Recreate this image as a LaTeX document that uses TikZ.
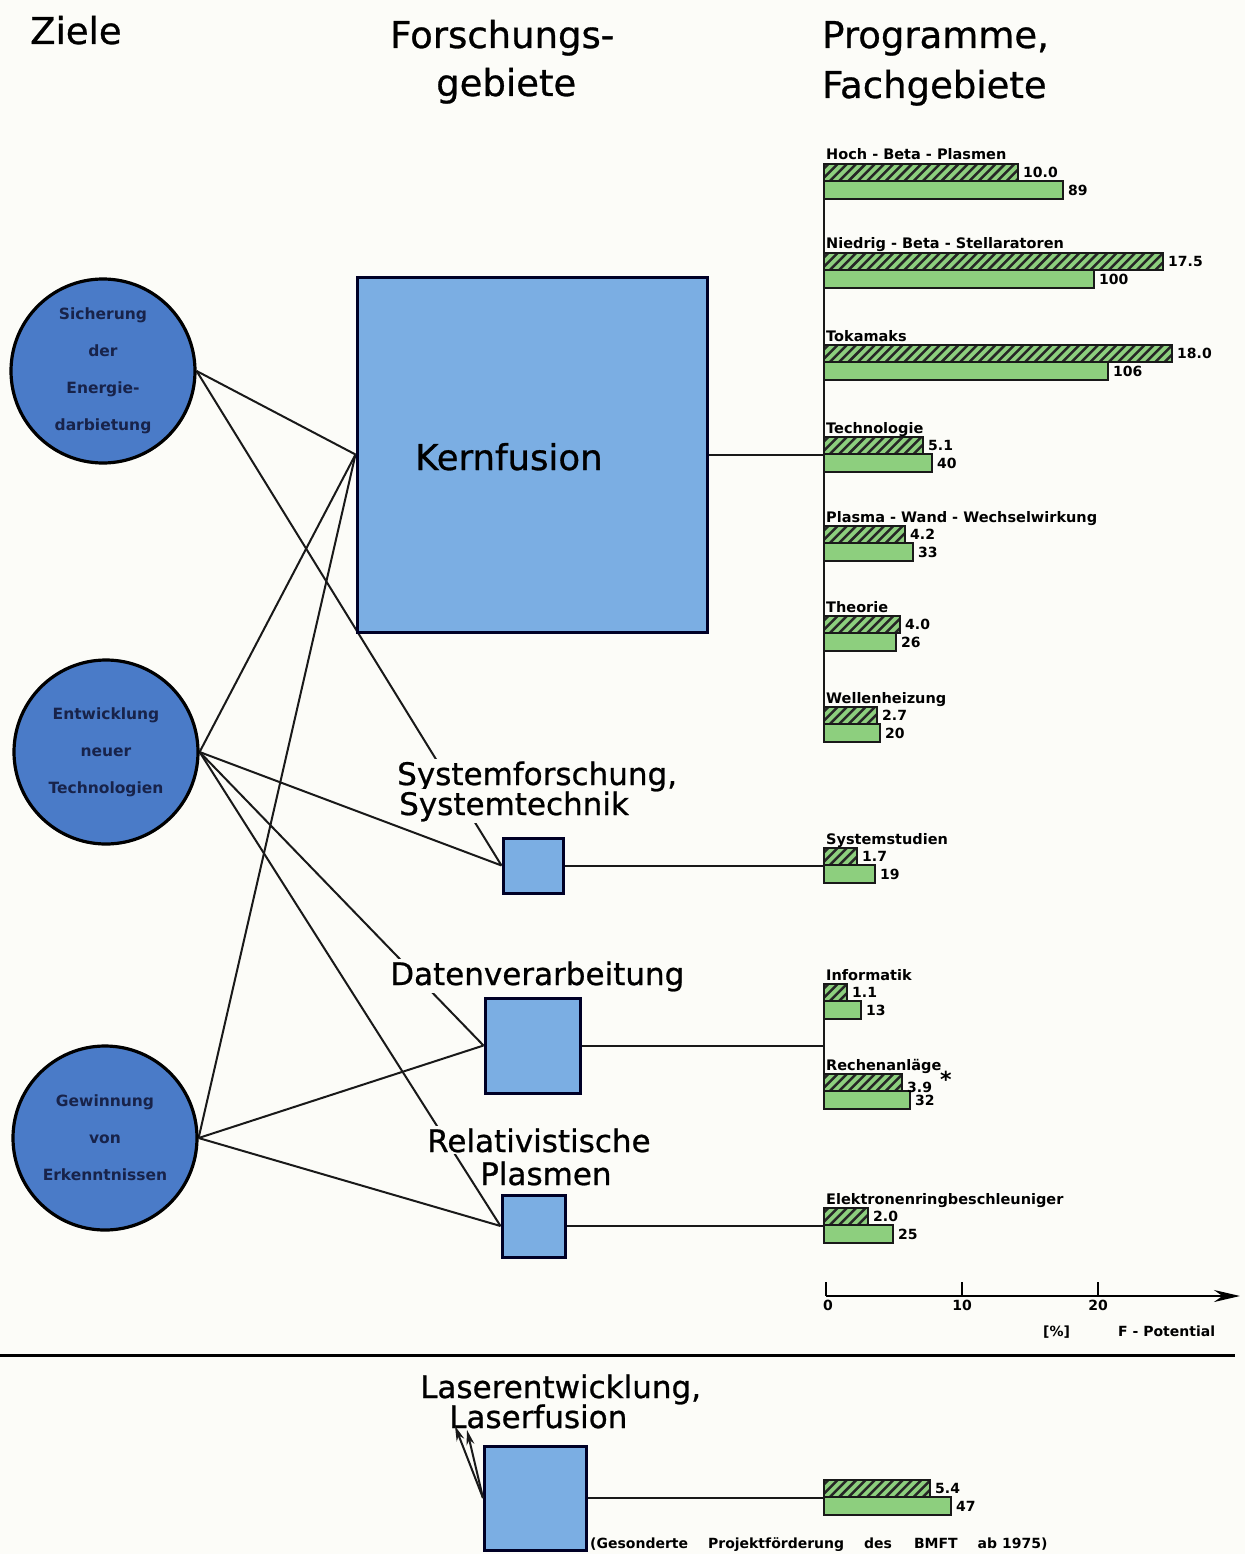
\documentclass[tikz,border=0pt]{standalone}
\usepackage{fontspec}
\setmainfont{DejaVu Sans}
\newfontfamily\heavyfont[FakeBold=0.8]{DejaVu Sans}
\usetikzlibrary{arrows.meta}
\pgfdeclarelayer{paperlayer}
\pgfdeclarelayer{wires}
\pgfsetlayers{paperlayer,wires,main}

\definecolor{goalblue}{HTML}{4A7BC8}
\definecolor{areablue}{HTML}{7BAEE3}
\definecolor{bargreen}{HTML}{8DCF7E}
\definecolor{paper}{HTML}{FCFCF8}
\definecolor{goalink}{HTML}{18234A}

\newcommand\fs[1]{\fontsize{#1}{#1}\selectfont}

% one pair of bars: #1 name, #2 top y, #3 caption, #4 end of hatched bar,
% #5 its value, #6 end of plain bar, #7 its value
\newcommand\fbars[7]{%
  \fill[bargreen] (824,#2+17) rectangle (#6,#2+35);
  \fill[bargreen] (824,#2) rectangle (#4,#2+17);
  \begin{scope}
    \clip (824,#2) rectangle (#4,#2+17);
    \foreach \hx in {800,809.3,...,1190}
      \draw[hatchline] (\hx,#2+19) -- (\hx+21,#2-2);
  \end{scope}
  \draw[barline] (824,#2+17) rectangle (#6,#2+35);
  \draw[barline] (824,#2) rectangle (#4,#2+17);
  \node[barlbl] (#1) at (826,#2-4) {#3};
  \node[val] (#1-h) at (#4+5,#2+8) {#5};
  \node[val] (#1-s) at (#6+5,#2+26) {#7};
}

\begin{document}
\begin{tikzpicture}[x=1pt,y=-1pt,
  goal/.style={circle,draw=black,line width=3.2pt,fill=goalblue,minimum size=184pt,
    inner sep=0pt,align=center,text=goalink,font=\bfseries\fontsize{15.5}{37}\selectfont},
  area/.style={draw=black!85!blue,line width=3pt,fill=areablue,inner sep=0pt},
  link/.style={line width=2pt,draw=black!90},
  head/.style={font=\heavyfont\fs{37},anchor=base west,inner sep=0pt},
  fieldlbl/.style={font=\heavyfont\fs{31},anchor=base west,inner sep=2pt,fill=paper},
  barlbl/.style={font=\bfseries\fs{14.5},anchor=base west,inner sep=0pt},
  val/.style={font=\bfseries\fs{14},anchor=west,inner sep=0pt},
  barline/.style={line width=2.4pt,draw=black!90},
  hatchline/.style={line width=2.5pt,draw=black!85},
  tickmark/.style={line width=2.5pt},
  note/.style={font=\bfseries\fs{14},anchor=base west,inner sep=0pt}
]
\begin{pgfonlayer}{paperlayer}
  \fill[paper] (0,0) rectangle (1245,1554);
\end{pgfonlayer}
\useasboundingbox (0,0) rectangle (1245,1554);

% column headings
\node[head] (hziele) at (30,44) {Ziele};
\node[head] (hforsch1) at (390,48) {Forschungs-};
\node[head] (hforsch2) at (436,96) {gebiete};
\node[head] (hprog1) at (822,48) {Programme,};
\node[head] (hprog2) at (822,98) {Fachgebiete};

% goals
\node[goal] (sich) at (103,371) {Sicherung\\der\\Energie-\\darbietung};
\node[goal] (ent) at (106,752) {Entwicklung\\neuer\\Technologien};
\node[goal] (gew) at (105,1138) {Gewinnung\\von\\Erkenntnissen};

% research areas
\node[area,minimum width=350pt,minimum height=355pt] (kern) at (532,454.5) {};
\node[font=\heavyfont\fs{35.5},anchor=base west,inner sep=0pt] (kernlbl) at (415,470) {Kernfusion};
\node[area,minimum width=60pt,minimum height=55pt] (sys) at (533,865.5) {};
\node[area,minimum width=95pt,minimum height=95pt] (dat) at (532.5,1045.5) {};
\node[area,minimum width=63pt,minimum height=62pt] (rel) at (533.5,1226) {};
\node[area,minimum width=102pt,minimum height=104pt] (laser) at (535.5,1498) {};

\node[fieldlbl] (sf1) at (395,785) {Systemforschung,};
\node[fieldlbl] (sf2) at (397,815) {Systemtechnik};
\node[fieldlbl] (dv) at (388,985) {Datenverarbeitung};
\node[fieldlbl] (rp1) at (425,1152) {Relativistische};
\node[fieldlbl] (rp2) at (478,1185) {Plasmen};
\node[fieldlbl] (lz1) at (418,1398) {Laserentwicklung,};
\node[fieldlbl] (lz2) at (447,1428) {Laserfusion};

% goal-to-area links
\begin{pgfonlayer}{wires}
  \draw[link] (sich.east) -- (kern.west);
  \draw[link] (sich.east) -- (sys.west);
  \draw[link] (ent.east) -- (kern.west);
  \draw[link] (ent.east) -- (sys.west);
  \draw[link] (ent.east) -- (dat.west);
  \draw[link] (ent.east) -- (rel.west);
  \draw[link] (gew.east) -- (kern.west);
  \draw[link] (gew.east) -- (dat.west);
  \draw[link] (gew.east) -- (rel.west);
\end{pgfonlayer}

% area-to-programme links
\coordinate (kt) at (824,164);
\coordinate (kb) at (824,742);
\coordinate (dt) at (824,984);
\coordinate (db) at (824,1109);
\draw[link] (kt) -- (kb);
\draw[link] (dt) -- (db);
\draw[link] (kern.east) -- (kern.east -| kt);
\draw[link] (sys.east) -- (sys.east -| kt);
\draw[link] (dat.east) -- (dat.east -| kt);
\draw[link] (rel.east) -- (rel.east -| kt);
\draw[link] (laser.east) -- (laser.east -| kt);

% programmes
\fbars{hbp}{164}{Hoch - Beta - Plasmen}{1018}{10.0}{1063}{89}
\fbars{nbs}{253}{Niedrig - Beta - Stellaratoren}{1163}{17.5}{1094}{100}
\fbars{tok}{345}{Tokamaks}{1172}{18.0}{1108}{106}
\fbars{tec}{437}{Technologie}{923}{5.1}{932}{40}
\fbars{pww}{526}{Plasma - Wand - Wechselwirkung}{905}{4.2}{913}{33}
\fbars{the}{616}{Theorie}{900}{4.0}{896}{26}
\fbars{weh}{707}{Wellenheizung}{877}{2.7}{880}{20}
\fbars{sst}{848}{Systemstudien}{857}{1.7}{875}{19}
\fbars{inf}{984}{Informatik}{847}{1.1}{861}{13}
\fbars{rea}{1074}{Rechenanläge}{902}{3.9\hspace{8pt}\raisebox{5pt}{\fs{22}*}}{910}{32}
\fbars{erb}{1208}{Elektronenringbeschleuniger}{868}{2.0}{893}{25}
\fbars{lsr}{1480}{}{930}{5.4}{951}{47}

% scale
\coordinate (a0) at (826,1296);
\coordinate (aend) at (1240,1296);
\draw[line width=2.5pt,-{Stealth[length=26pt,width=12pt]}] (a0) -- (aend);
\draw[tickmark] (826,1282) -- (826,1296);
\draw[tickmark] (962,1282) -- (962,1296);
\draw[tickmark] (1098,1282) -- (1098,1296);
\node[font=\bfseries\fs{14},anchor=north,inner sep=0pt] (t0) at (828,1300) {0};
\node[font=\bfseries\fs{14},anchor=north,inner sep=0pt] (t10) at (962,1300) {10};
\node[font=\bfseries\fs{14},anchor=north,inner sep=0pt] (t20) at (1098,1300) {20};
\node[note] (unit) at (1043,1336) {[\%]};
\node[note] (fpot) at (1118,1336) {F - Potential};

% separator
\draw[line width=3pt] (0,1355) -- (1235,1355);

% laser arrows
\coordinate (la1) at (455,1426);
\coordinate (la2) at (467,1430);
\draw[link,-{Stealth[length=15pt,width=8pt]}] (laser.west) -- (la1);
\draw[link,-{Stealth[length=15pt,width=8pt]}] (laser.west) -- (la2);

\node[note] (bmft) at (590,1548) {(Gesonderte\hspace{20pt}Projektförderung\hspace{20pt}des\hspace{22pt}BMFT\hspace{20pt}ab 1975)};
\end{tikzpicture}
\end{document}
